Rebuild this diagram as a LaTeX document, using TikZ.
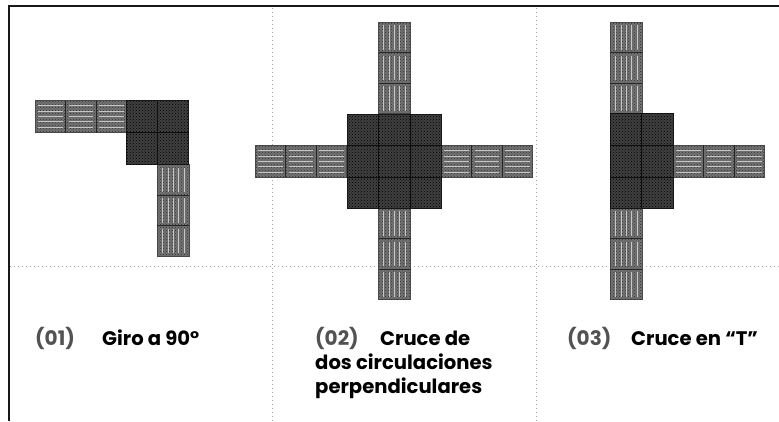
\documentclass[tikz,border=0pt]{standalone}
\usepackage{fontspec}
\usetikzlibrary{patterns}
\setmainfont{Poppins}
\tikzset{
  x=1pt,y=-1pt,
  frame/.style={draw=black!90,line width=1.7pt},
  guide/.style={draw=black!35,line width=0.7pt,dash pattern=on 1pt off 3pt},
  tilebox/.style={fill=black!55,draw=black!70,line width=0.8pt},
  tilespeck/.style={pattern=crosshatch dots,pattern color=black!80},
  tileedge/.style={draw=black!85,line width=0.7pt},
  tileline/.style={draw=black!22,line width=1pt},
  crossing/.style={fill=black!75,draw=black!90,line width=0.7pt},
  crossspeck/.style={pattern=crosshatch dots,pattern color=black},
  crossgrid/.style={draw=black!95,line width=0.5pt},
  numtext/.style={anchor=base west,inner sep=0pt,font=\fontsize{20}{24}\selectfont\bfseries,text=black!68},
  captext/.style={anchor=base west,inner sep=0pt,font=\fontsize{19.6}{24}\selectfont\bfseries,text=black},
}
% one strip of three tiles, running along x
\newcommand\hstrip[3]{% x0, y0, tile length
  \draw[tilebox] (#1,#2) rectangle ++(3*#3,32);
  \fill[tilespeck] (#1,#2) rectangle ++(3*#3,32);
  \foreach \k in {0,1,2}{
    \foreach \d in {5,11,16,21,27}{
      \draw[tileline] ({#1+\k*#3+3},{#2+\d}) -- ++(#3-6,0);
    }
    \ifnum\k>0 \draw[tileedge] ({#1+\k*#3},#2) -- ++(0,32);\fi
  }
}
\newcommand\vstrip[3]{% x0, y0, tile length
  \draw[tilebox] (#1,#2) rectangle ++(32,3*#3);
  \fill[tilespeck] (#1,#2) rectangle ++(32,3*#3);
  \foreach \k in {0,1,2}{
    \foreach \d in {5,11,16,21,27}{
      \draw[tileline] ({#1+\d},{#2+\k*#3+3}) -- ++(0,#3-6);
    }
    \ifnum\k>0 \draw[tileedge] (#1,{#2+\k*#3}) -- ++(32,0);\fi
  }
}
\begin{document}
\begin{tikzpicture}
\useasboundingbox (0,0) rectangle (779,421);
\fill[white] (0,0) rectangle (779,421);
% guides
\draw[guide] (10,266) -- (779,266);
\draw[guide] (272,8) -- (272,421);
\draw[guide] (536,8) -- (536,421);
% frame
\draw[frame] (9,421) -- (9,6) -- (779,6);
% 01
\hstrip{35}{100.5}{30.5}
\vstrip{157}{164.5}{30.5}
\draw[crossing] (126,100.5) rectangle (188,164.5);
\fill[crossspeck] (126,100.5) rectangle (188,164.5);
\draw[crossgrid] (157,101) -- (157,164) (126,132.5) -- (188,132.5);
% 02
\vstrip{378.5}{22}{30.5}
\vstrip{378.5}{208}{30.5}
\hstrip{255}{145}{30.5}
\hstrip{441}{145}{30.5}
\draw[crossing] (347,114) rectangle (441,208);
\fill[crossspeck] (347,114) rectangle (441,208);
\draw[crossgrid] (378.5,114) -- (378.5,208) (410,114) -- (410,208) (347,145) -- (441,145) (347,177) -- (441,177);
% 03
\vstrip{610}{22}{30.5}
\vstrip{610}{208}{30.5}
\hstrip{673}{145}{30.5}
\draw[crossing] (610,113.5) rectangle (673,208);
\fill[crossspeck] (610,113.5) rectangle (673,208);
\draw[crossgrid] (641.5,114) -- (641.5,208) (610,145) -- (673,145) (610,177) -- (673,177);
% labels
\node[numtext] (n1) at (35,345) {(01)};
\node[captext] (c1) at (102,345) {Giro a 90°};
\node[numtext] (n2) at (315,345) {(02)};
\node[captext] (c2) at (380,345) {Cruce de};
\node[captext] (c2b) at (315,369) {dos circulaciones};
\node[captext] (c2c) at (315,393) {perpendiculares};
\node[numtext] (n3) at (567,345) {(03)};
\node[captext] (c3) at (631,345) {Cruce en “T”};
\end{tikzpicture}
\end{document}
